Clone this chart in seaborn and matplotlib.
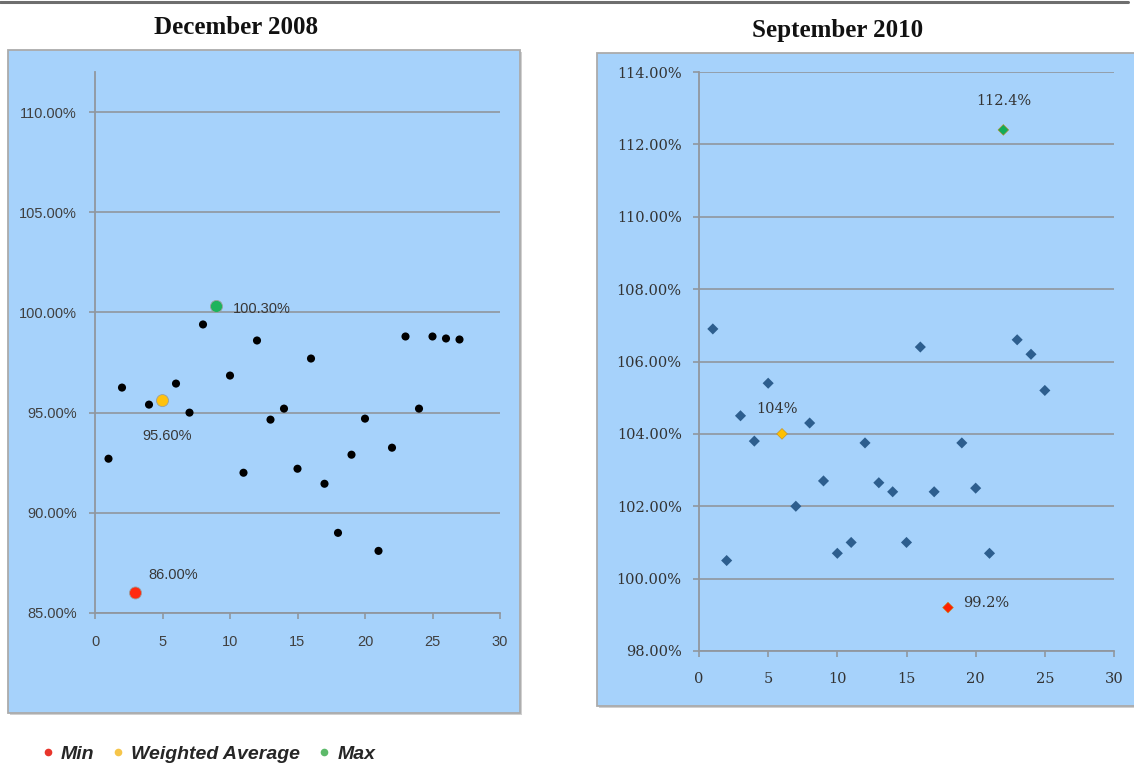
import matplotlib
matplotlib.use("Agg")
import matplotlib.pyplot as plt
import seaborn as sns
import pandas as pd
from matplotlib.patches import Rectangle
from matplotlib.lines import Line2D
from matplotlib.ticker import FuncFormatter, MultipleLocator

# ---------------- data ----------------
dec_x = list(range(1, 28))
dec_y = [92.7, 96.25, 86.0, 95.4, 95.6, 96.45, 95.0, 99.4, 100.3, 96.85,
         92.0, 98.6, 94.65, 95.2, 92.2, 97.7, 91.45, 89.0, 92.9, 94.7,
         88.1, 93.25, 98.8, 95.2, 98.8, 98.7, 98.65]
dec_role = ["Other"] * 27
dec_role[3 - 1] = "Min"
dec_role[5 - 1] = "Weighted Average"
dec_role[9 - 1] = "Max"
dec_labels = {"Min": "86.00%", "Weighted Average": "95.60%", "Max": "100.30%"}

sep_x = list(range(1, 26))
sep_y = [106.9, 100.5, 104.5, 103.8, 105.4, 104.0, 102.0, 104.3, 102.7, 100.7,
         101.0, 103.75, 102.65, 102.4, 101.0, 106.4, 102.4, 99.2, 103.75, 102.5,
         100.7, 112.4, 106.6, 106.2, 105.2]
sep_role = ["Other"] * 25
sep_role[18 - 1] = "Min"
sep_role[6 - 1] = "Weighted Average"
sep_role[22 - 1] = "Max"
sep_labels = {"Min": "99.2%", "Weighted Average": "104%", "Max": "112.4%"}

legend_labels = ["Min", "Weighted Average", "Max"]
titles = ["December 2008", "September 2010"]

# ---------------- style ----------------
sns.set_theme(style="white")
plt.rcParams["font.family"] = ["Liberation Sans", "DejaVu Sans"]

W, H = 1134, 763
fig = plt.figure(figsize=(W / 100, H / 100), dpi=100)
fig.patch.set_facecolor("white")

BG = "#a6d2fb"
GRID = "#90979e"
AXC = "#90979e"
DOT_COL = {"Min": "#ff2a10", "Weighted Average": "#ffc20e", "Max": "#1db35c"}
LEG_COL = {"Min": "#e8352b", "Weighted Average": "#f6c54a", "Max": "#5dba6a"}
DIA_COL = {"Min": "#ff2000", "Weighted Average": "#ffc000", "Max": "#12ac58"}

# top rule line
fig.add_artist(Line2D([0, 1128 / W], [1 - 1.5 / H, 1 - 1.5 / H], color="#6e6e6e",
                      lw=2.2, transform=fig.transFigure))

# panel backgrounds
def px_rect(x0, y0, x1, y1):
    return (x0 / W, 1 - y1 / H), (x1 - x0) / W, (y1 - y0) / H

for (x0, y0, x1, y1) in [(8, 50, 520, 713), (597, 53, 1145, 706)]:
    xy, w, h = px_rect(x0, y0, x1, y1)
    fig.add_artist(Rectangle((xy[0] + 1.5 / W, xy[1] - 1.5 / H), w, h,
                             transform=fig.transFigure, facecolor="#d0d0d0",
                             edgecolor="none", zorder=0))
    fig.add_artist(Rectangle(xy, w, h, transform=fig.transFigure,
                             facecolor=BG, edgecolor="#ababab", lw=1.3, zorder=0))

# axes
axL = fig.add_axes([95 / W, 1 - 613 / H, 405 / W, 541 / H])
axR = fig.add_axes([699 / W, 1 - 651 / H, 415 / W, 579 / H])

def style_axes(ax, ylo, yhi, ystep, fam, fsize, ypad, xpad, tcol):
    ax.set_facecolor("none")
    ax.set_xlim(0, 30)
    ax.set_ylim(ylo, yhi)
    ax.xaxis.set_major_locator(MultipleLocator(5))
    ax.yaxis.set_major_locator(MultipleLocator(ystep))
    ax.yaxis.set_major_formatter(FuncFormatter(lambda v, p: f"{v:.2f}%"))
    for s in ["top", "right"]:
        ax.spines[s].set_visible(False)
    for s in ["left", "bottom"]:
        ax.spines[s].set_color(AXC)
        ax.spines[s].set_linewidth(1.3)
    ax.grid(axis="y", color=GRID, lw=1.2)
    ax.grid(axis="x", visible=False)
    ax.set_axisbelow(True)
    ax.tick_params(axis="y", length=4, width=1.2, color=AXC, pad=ypad,
                   labelsize=fsize, labelcolor=tcol, left=True)
    ax.tick_params(axis="x", length=4, width=1.2, color=AXC, pad=xpad,
                   labelsize=fsize, labelcolor=tcol, bottom=True)
    for lab in ax.get_xticklabels() + ax.get_yticklabels():
        lab.set_family(fam)
    ax.set_xlabel("")
    ax.set_ylabel("")

# ---- left panel ----
dfL = pd.DataFrame({"x": dec_x, "y": dec_y, "role": dec_role})
sns.scatterplot(data=dfL[dfL.role == "Other"], x="x", y="y", color="black",
                s=34, edgecolor="none", ax=axL, zorder=3, legend=False)
hiL = dfL[dfL.role != "Other"]
sns.scatterplot(data=hiL, x="x", y="y", hue="role", palette=DOT_COL, s=75,
                edgecolor="#9aa0a0", linewidth=0.6, ax=axL, zorder=4, legend=False)
offL = {"Min": (38, 18, "center"), "Weighted Average": (5, -35, "center"),
        "Max": (16, -2.5, "left")}
for _, r in hiL.iterrows():
    dx, dy, ha = offL[r.role]
    axL.annotate(dec_labels[r.role], (r.x, r.y), xytext=(dx, dy),
                 textcoords="offset pixels", ha=ha, va="center",
                 fontsize=10.5, color="#383838", family="Liberation Sans")
style_axes(axL, 85, 112, 5, "Liberation Sans", 10.5, 9, 12, "#404040")

# ---- right panel ----
dfR = pd.DataFrame({"x": sep_x, "y": sep_y, "role": sep_role})
sns.scatterplot(data=dfR[dfR.role == "Other"], x="x", y="y", color="#2d5e8e",
                marker="D", s=32, edgecolor="none", ax=axR, zorder=3, legend=False)
hiR = dfR[dfR.role != "Other"]
sns.scatterplot(data=hiR, x="x", y="y", hue="role", palette=DIA_COL, marker="D",
                s=30, edgecolor="#c08a20", linewidth=0.4, ax=axR, zorder=4, legend=False)
offR = {"Min": (38, 4.5), "Weighted Average": (-5, 25), "Max": (0, 29)}
for _, r in hiR.iterrows():
    dx, dy = offR[r.role]
    axR.annotate(sep_labels[r.role], (r.x, r.y), xytext=(dx, dy),
                 textcoords="offset pixels", ha="center", va="center",
                 fontsize=10.5, color="#333333", family="DejaVu Serif")
style_axes(axR, 98, 114, 2, "DejaVu Serif", 10.5, 8.5, 11, "#333333")

# titles
fig.text(236.5 / W, 1 - 27 / H, titles[0], ha="center", va="center",
         fontsize=18, fontweight="bold", family="Liberation Serif", color="#111111")
fig.text(838 / W, 1 - 31 / H, titles[1], ha="center", va="center",
         fontsize=18, fontweight="bold", family="Liberation Serif", color="#111111")

# legend
handles = [Line2D([], [], ls="none", marker="o", markersize=5.5,
                  markerfacecolor=LEG_COL[k], markeredgecolor="none")
           for k in legend_labels]
fig.legend(handles, legend_labels, loc="center left",
           bbox_to_anchor=(32 / W, 1 - 754 / H), ncol=3, frameon=False,
           borderpad=0, handlelength=0.6, handletextpad=0.36,
           columnspacing=0.95,
           prop={"family": "Liberation Sans", "weight": "bold",
                 "style": "italic", "size": 14})

fig.savefig("out.png", dpi=100, facecolor="white")
